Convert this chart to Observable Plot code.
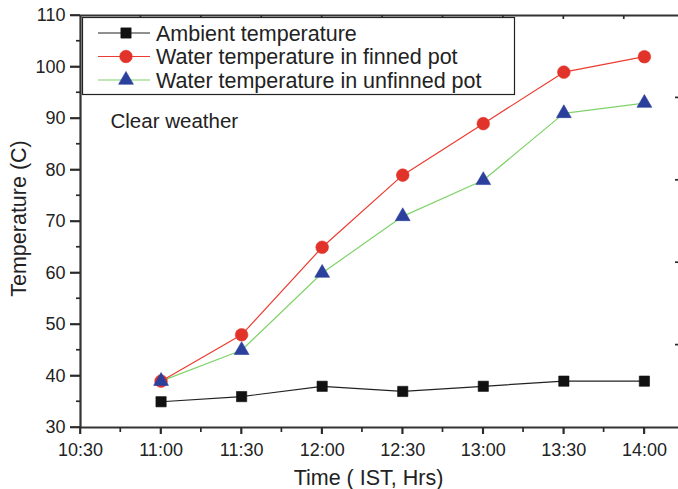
<!DOCTYPE html>
<html>
<head>
<meta charset="utf-8">
<script src="https://cdn.jsdelivr.net/npm/d3@7"></script>
<script src="https://cdn.jsdelivr.net/npm/@observablehq/plot@0.6"></script>
<style>
  html, body { margin: 0; padding: 0; background: #fff; }
  #chart svg { display: block; }
</style>
</head>
<body>
<div id="chart"></div>
<script>
// ---- data ----
const times = ["11:00", "11:30", "12:00", "12:30", "13:00", "13:30", "14:00"];
const ambient = [35, 36, 38, 37, 38, 39, 39];
const finned = [39, 48, 65, 79, 89, 99, 102];
const unfinned = [39, 45, 60, 71, 78, 91, 93];
const xTickLabels = ["10:30", "11:00", "11:30", "12:00", "12:30", "13:00", "13:30", "14:00"];
const yTicks = [30, 40, 50, 60, 70, 80, 90, 100, 110];
const yMinorTicks = [35, 45, 55, 65, 75, 85, 95, 105];
const seriesNames = ["Ambient temperature", "Water temperature in finned pot", "Water temperature in unfinned pot"];
const annotation = "Clear weather";
const xTitle = "Time ( IST, Hrs)";
const yTitle = "Temperature (C)";

const toMin = s => { const [h, m] = s.split(":").map(Number); return h * 60 + m; };
const fmt = m => `${Math.floor(m / 60)}:${String(m % 60).padStart(2, "0")}`;

const xMajor = xTickLabels.map(toMin);
const xMinor = xMajor.map(v => v + 15);
const topTicks = d3.range(1, 10).map(k => toMin("10:30") + k * 22.5);
const rightTicks = [46, 62, 78, 94];

const styles = [
  {name: seriesNames[0], values: ambient, line: "#222", fill: "#111", symbol: "square", r: 5.8},
  {name: seriesNames[1], values: finned, line: "#ec3b30", fill: "#e2332a", symbol: "circle", r: 6.3},
  {name: seriesNames[2], values: unfinned, line: "#7fd36a", fill: "#2b3f9c", symbol: "triangle", r: 5.5}
];
const data = styles.flatMap(s => times.map((t, i) => ({series: s.name, t: toMin(t), v: s.values[i]})));

const axisColor = "#333";
const font = "'Liberation Sans', Arial, Helvetica, sans-serif";

const marks = [
  Plot.ruleY([30, 110], {stroke: axisColor, strokeWidth: 2}),
  Plot.ruleX([toMin("10:30")], {stroke: axisColor, strokeWidth: 2.2}),
  Plot.axisY(yTicks, {anchor: "left", tickSize: 10, tickPadding: 5, fontSize: 18, color: "#222", stroke: axisColor, strokeWidth: 1.6, label: null}),
  Plot.axisX(xMajor, {anchor: "bottom", tickSize: 7, tickPadding: 9, tickFormat: fmt, fontSize: 18, color: "#222", stroke: axisColor, strokeWidth: 1.6, label: null}),
];
for (const s of styles) {
  marks.push(Plot.line(data.filter(d => d.series === s.name), {x: "t", y: "v", stroke: s.line, strokeWidth: 1.2}));
}
for (const s of styles) {
  marks.push(Plot.dot(data.filter(d => d.series === s.name), {x: "t", y: "v", fill: s.fill, stroke: s.fill, strokeWidth: 0.6, symbol: s.symbol, r: s.r}));
}
marks.push(
  Plot.text([annotation], {frameAnchor: "top-left", dx: 30, dy: 112, textAnchor: "start", lineAnchor: "bottom", fontSize: 20.5, fill: "#222"}),
  Plot.text([xTitle], {frameAnchor: "bottom", dx: -11, dy: 57, textAnchor: "middle", lineAnchor: "bottom", fontSize: 21.5, fill: "#222"}),
  Plot.text([yTitle], {frameAnchor: "left", dx: -55, dy: -3, rotate: -90, textAnchor: "middle", lineAnchor: "bottom", fontSize: 21.5, fill: "#222"})
);

const chart = Plot.plot({
  width: 678,
  height: 489,
  marginLeft: 80,
  marginRight: 0,
  marginTop: 15,
  marginBottom: 62,
  style: {fontFamily: font, background: "#fff"},
  x: {type: "linear", domain: [toMin("10:30"), toMin("10:30") + 222.7]},
  y: {domain: [30, 110]},
  marks
});
document.getElementById("chart").append(chart);

// ---- tick marks, positioned from Plot's own scale domain/range ----
const svg = d3.select(chart);
const xsObj = chart.scale("x"), ysObj = chart.scale("y");
const X = d3.scaleLinear(xsObj.domain, xsObj.range);
const Y = d3.scaleLinear(ysObj.domain, ysObj.range);
const x0 = X(toMin("10:30")), xEnd = xsObj.range[1];
const yBot = Y(30), yTop = Y(110);
const tk = svg.append("g").attr("stroke", "#2a2a2a").attr("stroke-width", 1.7).attr("fill", "none");
const tick = (x1, y1, x2, y2) => tk.append("path").attr("d", `M${x1},${y1}L${x2},${y2}`);
yTicks.forEach(v => tick(x0 - 10, Y(v), x0, Y(v)));
yMinorTicks.forEach(v => tick(x0 - 4, Y(v), x0, Y(v)));
rightTicks.forEach(v => tick(xEnd - 3, Y(v), xEnd, Y(v)));
xMajor.forEach(v => tick(X(v), yBot, X(v), yBot + 7));
xMinor.forEach(v => tick(X(v), yBot, X(v), yBot + 5));
topTicks.forEach(v => tick(X(v), yTop, X(v), yTop + 4));

// ---- legend ----
const lg = svg.append("g").attr("font-family", font).attr("text-anchor", "start");
lg.append("rect").attr("x", 82.5).attr("y", 17.5).attr("width", 432).attr("height", 77)
  .attr("fill", "#fff").attr("stroke", "#222").attr("stroke-width", 1.2);
const symMap = {square: d3.symbolSquare, circle: d3.symbolCircle, triangle: d3.symbolTriangle};
styles.forEach((s, i) => {
  const cy = 33 + i * 23.5;
  lg.append("line").attr("x1", 98).attr("x2", 150).attr("y1", cy).attr("y2", cy)
    .attr("stroke", s.line).attr("stroke-width", 1.2);
  lg.append("path").attr("transform", `translate(126,${cy})`)
    .attr("d", d3.symbol(symMap[s.symbol], Math.PI * s.r * s.r)())
    .attr("fill", s.fill).attr("stroke", s.fill).attr("stroke-width", 0.6);
  lg.append("text").attr("x", 156).attr("y", cy + 7.5).attr("font-size", 21.5)
    .attr("text-anchor", "start").attr("fill", "#222").text(s.name);
});
</script>
</body>
</html>
